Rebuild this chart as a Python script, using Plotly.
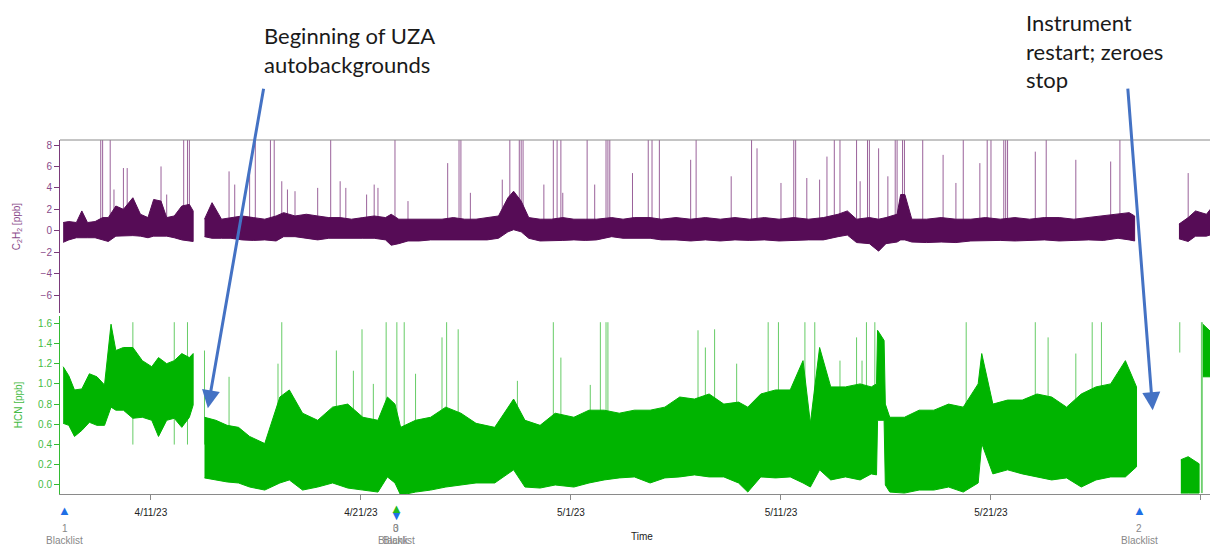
import numpy as np
import pandas as pd
import plotly.graph_objects as go

BASE = pd.Timestamp("2023-04-11")

# ---------------- C2H2 (ppb): dense band envelope, days since 4/11/23; None = data gap
c2h2_day = [-4.18, -3.91, -3.55, -3.29, -3.02, -2.66, -2.30, -2.03, -1.67, -1.31, -0.86, -0.50, -0.14, 0.13, 0.48,
            0.75, 1.11, 1.47, 1.83, 2.01, None,
            2.55, 2.91, 3.36, 3.81, 4.34, 4.88, 5.42, 5.96, 6.32, 6.86, 7.40, 7.94, 8.47, 9.01, 9.55, 10.09, 10.63,
            11.17, 11.44, 11.80, 12.24, 12.78, 13.32, 13.86, 14.40, 14.94, 15.48, 16.01, 16.55, 17.00, 17.27, 17.63,
            17.99, 18.53, 19.07, 19.61, 20.14, 20.68, 21.22, 21.94, 22.48, 23.02, 23.77, 24.30, 25.00, 25.70, 26.40,
            27.11, 27.81, 28.51, 29.21, 29.91, 30.61, 31.32, 32.02, 32.72, 33.16, 33.60, 34.21, 34.65, 35.00, 35.53,
            35.70, 35.90, 36.23, 36.93, 37.63, 38.33, 39.04, 39.74, 40.44, 41.14, 41.84, 42.54, 43.25, 43.95, 44.65,
            45.35, 46.05, 46.58, 46.84, None,
            48.95, 49.39, 49.74, 50.26, 50.75, 51.00]
c2h2_hi = [0.77, 0.86, 0.77, 1.85, 0.77, 0.86, 1.23, 1.23, 2.31, 2.00, 3.08, 1.54, 1.23, 2.92, 2.77,
           1.23, 1.38, 2.31, 2.46, 1.85, None,
           1.08, 2.62, 1.08, 1.23, 1.38, 1.23, 1.08, 1.38, 1.69, 1.38, 1.54, 1.38, 1.23, 1.23, 1.08, 1.23, 1.38,
           1.23, 1.54, 1.08, 1.08, 1.08, 1.08, 1.08, 1.23, 1.08, 1.08, 1.23, 1.38, 3.08, 3.69, 2.77,
           1.23, 1.08, 1.08, 1.23, 1.08, 1.08, 1.08, 1.23, 1.08, 1.23, 1.23, 1.08, 1.23, 1.08, 1.23,
           1.08, 1.23, 1.08, 1.23, 1.08, 1.23, 1.08, 1.23, 1.54, 1.85, 1.08, 1.23, 1.08, 1.23, 1.54,
           3.38, 3.38, 1.08, 1.08, 1.23, 1.08, 1.08, 1.23, 1.08, 1.23, 1.08, 1.23, 1.23, 1.08, 1.23,
           1.38, 1.54, 1.69, 1.38, None,
           0.62, 1.23, 1.85, 1.54, 2.77, 2.50]
c2h2_lo = [-1.08, -0.85, -0.65, -0.65, -0.65, -0.65, -0.85, -1.00, -0.50, -0.50, -0.45, -0.50, -0.65, -0.50, -0.50,
           -0.50, -0.65, -0.85, -0.95, -1.00, None,
           -0.55, -0.70, -0.70, -0.70, -0.85, -0.90, -0.85, -0.95, -0.55, -0.55, -0.70, -0.85, -0.70, -0.70, -0.70,
           -0.70, -0.70, -0.85, -1.35, -1.20, -0.95, -0.95, -0.85, -0.90, -0.90, -0.85, -0.85, -0.85, -0.70, -0.10,
           0.10, -0.10, -0.70, -0.95, -0.95, -0.90, -0.85, -0.90, -0.85, -0.55, -0.70, -0.70, -0.70, -0.85, -0.85,
           -0.95, -0.85, -0.95, -0.85, -0.90, -0.85, -0.95, -0.90, -0.85, -0.85, -0.55, -0.40, -1.10, -1.20, -1.90,
           -1.20, -1.05, -0.85, -0.85, -1.05, -1.10, -1.05, -1.10, -0.95, -0.95, -0.90, -0.95, -0.90, -0.85, -0.95,
           -0.90, -0.85, -0.90, -0.70, -0.85, -0.95, None,
           -0.75, -1.00, -0.50, -0.50, -0.20, -0.30]

# C2H2 spikes (day, peak ppb); peaks >= 8.5 are clipped at the top of the axis
c2h2_spike_day = [-2.39, -2.30, -1.94, 1.56, 1.74, 1.83, 4.97, 5.69, 5.87, 8.56, 11.62, 14.67, 14.76, 17.09, 17.54,
                  17.63, 17.72, 19.16, 19.34, 19.52, 20.77, 21.67, 21.76, 21.85,
                  -1.76, -1.31, -1.13, 0.48, 0.75, 3.72, 3.99, 4.70, 6.23, 6.50, 6.86, 7.94, 9.01, 9.28, 10.27,
                  10.63, 10.81, 12.24, 14.13, 15.21, 16.73, 18.71, 19.61, 21.13, 22.93,
                  23.68, 23.86, 24.21, 25.96, 28.60, 30.61, 30.70, 32.54, 32.81, 33.60, 34.12, 34.21, 35.44, 35.53,
                  35.79, 35.88, 36.75, 38.68, 39.82, 40.00, 40.61, 40.70, 40.79, 42.63, 46.14,
                  25.70, 27.63, 28.86, 30.00, 31.23, 31.84, 32.19, 33.77, 34.65, 35.09, 37.72, 38.33, 39.47, 42.11,
                  44.04, 45.70, 49.39, 50.53]
c2h2_spike_peak = [9, 9, 9, 9, 9, 9, 9, 9, 9, 9, 9, 9, 9, 9, 9,
                   9, 9, 9, 9, 9, 9, 9, 9, 9,
                   3.85, 5.85, 5.85, 6.00, 3.38, 5.54, 4.31, 5.54, 4.62, 3.85, 3.69, 4.00, 4.62, 4.00, 3.38,
                   4.31, 4.00, 2.77, 6.31, 3.54, 4.77, 4.31, 3.54, 4.31, 5.38,
                   9, 9, 9, 9, 9, 9, 9, 9, 9, 9, 9, 9, 9, 9,
                   9, 9, 9, 9, 9, 9, 9, 9, 9, 9, 9,
                   6.62, 5.08, 7.69, 4.46, 4.92, 4.77, 6.92, 4.62, 7.69, 5.08, 7.08, 4.46, 6.31, 7.38,
                   6.62, 6.46, 5.38, 9]

# ---------------- HCN (ppb): dense band envelope
hcn_day = [-4.18, -3.91, -3.64, -3.29, -2.93, -2.57, -2.21, -1.90, -1.67, -1.31, -0.86, -0.41, 0.04, 0.36, 0.75,
           1.11, 1.47, 1.83, 2.01, None,
           2.55, 3.09, 3.63, 4.17, 4.70, 5.42, 6.14, 6.59, 7.22, 7.94, 8.65, 9.37, 10.09, 10.81, 11.26, 11.62,
           11.89, 12.60, 13.32, 14.04, 14.76, 15.48, 16.37, 17.27, 17.81, 18.53, 19.25, 20.14, 20.86, 21.58, 22.30,
           23.02, 23.77, 24.47, 25.18, 25.88, 26.58, 27.28, 27.98, 28.42, 29.04, 29.74, 30.44, 31.05, 31.40, 31.84,
           32.37, 33.07, 33.77, 34.30, 34.55, 34.60, 34.91, 34.97, 35.18, 35.88, 36.58, 37.28, 37.98, 38.68, 39.39,
           39.56, 40.09, 40.79, 41.49, 42.19, 42.89, 43.60, 44.30, 45.00, 45.70, 46.40, 46.93, None,
           49.04, 49.39, 49.91, None,
           50.09, 50.75, 51.00]
hcn_hi = [1.17, 1.08, 0.94, 0.95, 1.10, 1.07, 0.99, 1.59, 1.33, 1.36, 1.36, 1.23, 1.17, 1.26, 1.20,
          1.23, 1.30, 1.26, 1.30, None,
          0.67, 0.64, 0.59, 0.57, 0.48, 0.41, 0.87, 0.94, 0.71, 0.64, 0.77, 0.80, 0.67, 0.64, 0.87, 0.80,
          0.57, 0.64, 0.67, 0.77, 0.71, 0.61, 0.57, 0.85, 0.64, 0.59, 0.71, 0.67, 0.74, 0.74, 0.71,
          0.74, 0.74, 0.77, 0.87, 0.85, 0.90, 0.80, 0.82, 0.77, 0.90, 0.94, 0.94, 1.23, 0.61, 1.36,
          0.97, 0.97, 1.00, 0.97, 1.00, 1.53, 1.43, 0.80, 0.67, 0.67, 0.74, 0.74, 0.80, 0.77, 1.00,
          1.30, 0.80, 0.84, 0.84, 0.90, 0.87, 0.77, 0.90, 0.97, 1.00, 1.23, 0.97, None,
          0.25, 0.28, 0.21, None,
          1.59, 1.46, 1.40]
hcn_lo = [0.61, 0.59, 0.48, 0.54, 0.62, 0.59, 0.59, 0.77, 0.74, 0.74, 0.66, 0.67, 0.64, 0.48, 0.64,
          0.66, 0.57, 0.67, 0.79, None,
          0.07, 0.05, 0.03, 0.02, -0.02, -0.05, 0.02, 0.05, -0.05, -0.02, 0.02, -0.03, -0.05, -0.07, 0.08, 0.02,
          -0.10, -0.07, -0.05, -0.02, 0.00, 0.02, 0.02, 0.15, -0.02, -0.03, 0.00, -0.02, 0.02, 0.05, 0.07,
          0.08, 0.02, 0.07, 0.08, 0.10, 0.08, 0.08, 0.02, -0.07, 0.08, 0.07, 0.08, 0.02, -0.02, 0.15,
          0.05, 0.08, 0.05, 0.11, 0.10, 0.64, 0.64, 0.00, -0.07, -0.08, -0.05, -0.05, -0.02, -0.07, 0.02,
          0.41, 0.11, 0.15, 0.11, 0.08, 0.05, 0.07, -0.02, 0.05, 0.08, 0.08, 0.18, None,
          -0.08, -0.08, -0.08, None,
          1.07, 1.07, 1.00]

# HCN spikes (day, peak ppb); peaks >= 1.61 clipped at the top
hcn_spike_day = [-0.86, 1.11, 1.74, 2.55, 3.72, 6.05, 6.23, 8.83, 9.64, 10.05, 10.59, 11.20, 11.71, 12.06, 12.60,
                 13.86, 14.08, 14.63, 17.45, 19.16, 19.52, 20.92, 21.40, 21.67, 21.76,
                 26.05, 26.40, 26.84, 27.89, 29.39, 29.88, 31.14, 31.61, 32.81, 33.60, 33.86, 34.07, 34.47, 38.82,
                 42.11, 42.72, 44.04, 44.82, 45.26]
hcn_spike_peak = [1.61, 1.61, 1.61, 1.33, 1.07, 1.20, 1.61, 1.33, 1.13, 1.54, 1.00, 1.61, 1.61, 1.61, 1.10,
                  1.46, 1.61, 1.54, 1.03, 1.61, 1.26, 0.99, 1.61, 1.61, 1.61,
                  1.53, 1.36, 1.54, 1.20, 1.61, 1.61, 1.61, 1.61, 1.23, 1.46, 1.23, 1.61, 1.61, 1.61,
                  1.61, 1.46, 1.30, 1.61, 1.61]
# isolated HCN segments near the restart (day, low, high)
hcn_iso_day = [48.99, 50.02, 50.06]
hcn_iso_lo = [1.31, -0.08, -0.08]
hcn_iso_hi = [1.61, 1.61, 1.61]

# ---------------- Blacklist / event markers on the time axis
marker_day = [-4.10, 11.67, 11.67, 47.05]
marker_num = ["1", "0", "3", "2"]
marker_text = ["Blacklist", "Blank", "Blacklist", "Blacklist"]
marker_color = ["#1f6fe6", "#1f6fe6", "#22bb22", "#1f6fe6"]
marker_symbol = ["▲", "▼", "▲", "▲"]
marker_dy = [0.0, -0.012, 0.006, 0.0]

PURPLE_BAND = "#560c56"
PURPLE_SPIKE = "#9a629a"
GREEN_BAND = "#00b400"
GREEN_SPIKE = "#66cc66"


def to_dt(days):
    return BASE + pd.to_timedelta(np.asarray(days, dtype=float), unit="D")


def segments(days, hi, lo):
    segs, cur = [], []
    for d, h, l in zip(days, hi, lo):
        if d is None:
            if cur:
                segs.append(cur)
            cur = []
        else:
            cur.append((d, h, l))
    if cur:
        segs.append(cur)
    return segs


def band_traces(days, hi, lo, color, yaxis):
    out = []
    for seg in segments(days, hi, lo):
        d = [s[0] for s in seg]
        h = [s[1] for s in seg]
        l = [s[2] for s in seg]
        dt = list(to_dt(d))
        out.append(go.Scatter(x=dt + dt[::-1], y=h + l[::-1], fill="toself", fillcolor=color,
                              mode="lines", line=dict(color=color, width=1), yaxis=yaxis,
                              hoverinfo="skip", showlegend=False))
    return out


def spike_trace(days, lows, highs, color, yaxis):
    xs, ys = [], []
    for t, a, b in zip(to_dt(days), lows, highs):
        xs += [t, t, None]
        ys += [a, b, None]
    return go.Scatter(x=xs, y=ys, mode="lines", line=dict(color=color, width=1), yaxis=yaxis,
                      hoverinfo="skip", showlegend=False)


fig = go.Figure()
fig.add_trace(spike_trace(c2h2_spike_day, [0.5] * len(c2h2_spike_day), c2h2_spike_peak, PURPLE_SPIKE, "y2"))
for tr in band_traces(c2h2_day, c2h2_hi, c2h2_lo, PURPLE_BAND, "y2"):
    fig.add_trace(tr)

fig.add_trace(spike_trace(hcn_spike_day, [0.4] * len(hcn_spike_day), hcn_spike_peak, GREEN_SPIKE, "y"))
fig.add_trace(spike_trace(hcn_iso_day, hcn_iso_lo, hcn_iso_hi, GREEN_SPIKE, "y"))
for tr in band_traces(hcn_day, hcn_hi, hcn_lo, GREEN_BAND, "y"):
    fig.add_trace(tr)

x_start = BASE + pd.Timedelta(days=-4.33)
x_end = BASE + pd.Timedelta(days=50.81)

# the page adds an 8px body margin, so the figure is 8px smaller than the window on each axis
fig.update_layout(
    width=1210, height=538,
    margin=dict(l=52, r=0, t=132, b=52),
    paper_bgcolor="white", plot_bgcolor="white",
    font=dict(family="Liberation Sans, Arial", size=10, color="#333333"),
    showlegend=False,
    xaxis=dict(type="date", range=[x_start, x_end], tick0="2023-04-11", dtick=10 * 86400000,
               tickformat="%-m/%-d/%y", showline=True, linecolor="#8a8a8a", linewidth=1,
               ticks="outside", ticklen=5, tickcolor="#8a8a8a", showgrid=False, zeroline=False,
               tickfont=dict(size=10, color="#222222"), ticklabelstandoff=4, anchor="y"),
    yaxis=dict(domain=[0, 0.503], range=[-0.089, 1.672], tick0=0, dtick=0.2, tickformat=".1f",
               showline=True, linecolor="#33bb33", linewidth=1, ticks="outside", ticklen=5,
               tickcolor="#33bb33", tickfont=dict(color="#44bb44", size=10), showgrid=False,
               zeroline=False, title=dict(text="HCN [ppb]", font=dict(color="#44bb44", size=10), standoff=13)),
    yaxis2=dict(domain=[0.511, 1], range=[-7.68, 8.467], tick0=0, dtick=2,
                showline=True, linecolor="#7a3a7a", linewidth=1, ticks="outside", ticklen=5,
                tickcolor="#7a3a7a", tickfont=dict(color="#8a4a8a", size=10), showgrid=False,
                zeroline=False, anchor="x",
                title=dict(text="C<sub>2</sub>H<sub>2</sub> [ppb]", font=dict(color="#8a4a8a", size=10),
                           standoff=18)),
)

# top frame line of the upper panel
fig.add_shape(type="line", xref="paper", yref="paper", x0=0, x1=1, y0=1, y1=1,
              line=dict(color="#8a8a8a", width=1))

# axis title
fig.add_annotation(text="Time", xref="paper", yref="paper", x=0.5026, y=-0.121, showarrow=False,
                   font=dict(size=10, color="#222222"), yanchor="middle")

# event markers below the axis
for d, num, txt, col, sym, dy in zip(marker_day, marker_num, marker_text, marker_color, marker_symbol, marker_dy):
    xd = to_dt([d])[0]
    fig.add_annotation(x=xd, xref="x", yref="paper", y=-0.048 + dy, text=sym, showarrow=False,
                       font=dict(size=13, color=col), yanchor="middle")
    fig.add_annotation(x=xd, xref="x", yref="paper", y=-0.097, text=num, showarrow=False,
                       font=dict(size=10, color="#888888"), yanchor="middle")
    fig.add_annotation(x=xd, xref="x", yref="paper", y=-0.13, text=txt, showarrow=False,
                       font=dict(size=10, color="#888888"), yanchor="middle")

# call-out texts
fig.add_annotation(text="Beginning of UZA<br>autobackgrounds", xref="paper", yref="paper",
                   x=(262 - 60) / 1158, y=(494 - 20) / 354, xanchor="left", yanchor="top",
                   align="left", showarrow=False, font=dict(family="Lato", size=22, color="#1a1a1a"))
fig.add_annotation(text="Instrument<br>restart; zeroes<br>stop", xref="paper", yref="paper",
                   x=(1024 - 60) / 1158, y=(494 - 7) / 354, xanchor="left", yanchor="top",
                   align="left", showarrow=False, font=dict(family="Lato", size=22, color="#1a1a1a"))

# arrows
fig.add_annotation(x=to_dt([2.71])[0], y=0.76, xref="x", yref="y", ax=56, ay=-321, axref="pixel",
                   ayref="pixel", showarrow=True, arrowhead=2, arrowsize=1.2, arrowwidth=3,
                   arrowcolor="#4472c4", text="")
fig.add_annotation(x=to_dt([47.7])[0], y=0.74, xref="x", yref="y", ax=-25, ay=-323, axref="pixel",
                   ayref="pixel", showarrow=True, arrowhead=2, arrowsize=1.2, arrowwidth=3,
                   arrowcolor="#4472c4", text="")

fig.write_html("out.html")
